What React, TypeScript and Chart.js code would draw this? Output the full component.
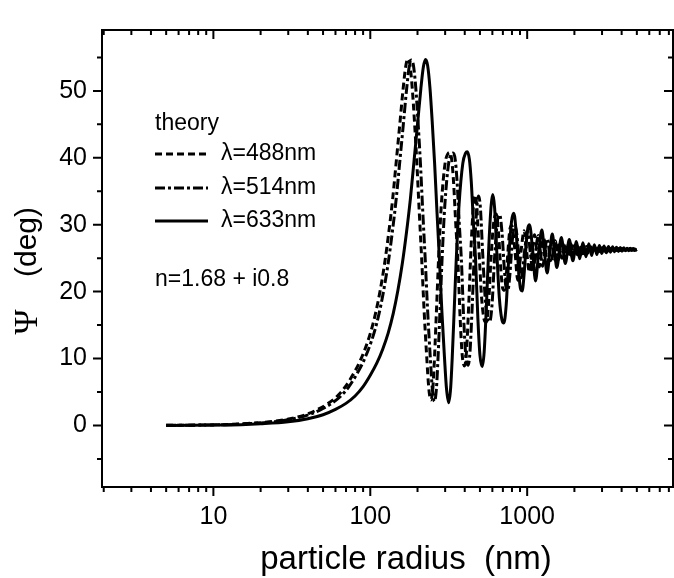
import React, { useEffect, useRef } from 'react';
import { Chart, registerables } from 'chart.js';

Chart.register(...registerables);

// ---------- data ----------
const seriesLabels = ['λ=488nm', 'λ=514nm', 'λ=633nm'];
const legendTitle = 'theory';
const annotationText = 'n=1.68 + i0.8';
const xTitle = 'particle radius  (nm)';
const yTitleSymbol = 'Ψ';
const yTitleUnit = '(deg)';
const xTickValues = [10, 100, 1000];
const yTickValues = [0, 10, 20, 30, 40, 50];

const r633 = [5, 7, 10, 15, 20, 30, 40, 50, 60, 70, 80, 90, 100, 110, 120, 130, 140, 150, 160, 170, 180, 190, 200, 210, 218, 225, 232, 240, 248, 257, 266, 276, 286, 297, 306, 316, 325, 333, 343, 353, 368, 389, 405, 415, 428, 440, 455, 469, 485, 500, 517, 532, 550, 570, 590, 604, 620, 640, 665, 690, 710, 735, 765, 795, 822, 850, 880, 905, 929, 955, 985, 1010, 1035, 1085, 1130, 1185, 1240, 1290, 1340, 1395, 1445, 1495, 1545, 1650, 1750, 1855, 1955, 2060, 2160, 2265, 2370, 2470, 2575, 2680, 2780, 2885, 2990, 3090, 3195, 3300, 3400, 3505, 3610, 3710, 3815, 3920, 4020, 4125, 4225, 4330, 4435, 4535, 4640, 4740, 4845, 5000];
const psi633 = [0, 0.02, 0.05, 0.12, 0.25, 0.55, 1.0, 1.6, 2.4, 3.3, 4.4, 5.8, 7.5, 9.3, 11.4, 13.8, 16.7, 20.2, 24.2, 28.8, 33.8, 39.5, 45.0, 50.3, 53.6, 54.7, 53.8, 50.5, 45.5, 39.2, 32, 24.7, 17, 10.2, 5.5, 3.4, 5.5, 10.2, 17.5, 24.7, 33, 39.2, 40.7, 40.9, 39.8, 36.5, 30, 24.7, 16, 10.5, 8.8, 11, 18, 27, 33, 34.5, 32.5, 26, 19, 15.8, 15.3, 18, 25.5, 30.5, 31.7, 29, 23.5, 20.5, 20.1, 22.5, 27, 29.5, 30.0, 26, 21.6, 26, 29.2, 25.8, 22.8, 26, 28.6, 26, 23.6, 28.1, 24.2, 27.8, 24.6, 27.5, 24.9, 27.3, 25.2, 27.15, 25.4, 27.0, 25.55, 26.9, 25.7, 26.8, 25.8, 26.75, 25.9, 26.7, 25.95, 26.65, 26.0, 26.6, 26.05, 26.55, 26.1, 26.5, 26.1, 26.5, 26.15, 26.45, 26.15, 26.3];

const r488 = [5, 7.7, 11.6, 15.4, 23.1, 30.8, 38.6, 46.3, 54, 61.7, 69.4, 77.1, 84.8, 92.5, 100.2, 107.9, 115.7, 123.4, 131.1, 138.8, 146.5, 154.2, 161.9, 168.1, 173.5, 178.9, 185, 191.2, 198.1, 205.1, 212.8, 220.5, 229, 235.9, 243.6, 250.6, 256.7, 264.5, 272.2, 283.7, 299.9, 312.3, 320, 330, 339.2, 350.8, 361.6, 373.9, 385.5, 398.6, 410.2, 424, 439.5, 454.9, 465.7, 478, 493.4, 512.7, 532, 547.4, 566.7, 589.8, 613, 633.8, 655.4, 678.5, 697.8, 716.3, 736.3, 759.4, 778.7, 798, 836.5, 871.2, 913.6, 956, 994.6, 1033, 1075.5, 1114, 1152.6, 1191.2, 1272, 1349, 1430, 1507, 1588, 1665, 1746, 1827, 1904, 1985, 2066, 2143, 2224, 2305, 2382, 2463, 2544, 2621, 2702, 2783, 2860, 2941, 3022, 3099, 3180, 3257, 3338, 3419, 3496, 3577, 3655, 3735, 3815, 3895, 3975, 4055, 4135, 4215, 4295, 4375, 4455, 4535, 4615, 4695, 4775, 4855, 4935, 5000];
const psi488 = [0.02, 0.05, 0.12, 0.25, 0.55, 1.0, 1.6, 2.4, 3.3, 4.4, 5.8, 7.5, 9.3, 11.4, 13.8, 16.7, 20.2, 24.2, 28.8, 33.8, 39.5, 45.0, 50.3, 53.6, 54.8, 53.9, 50.5, 45.5, 39.2, 32, 24.7, 17, 10.2, 5.6, 3.8, 5.6, 10.2, 17.5, 24.7, 33, 39.2, 40.6, 40.8, 39.8, 36.5, 30, 24.7, 16, 10.5, 8.9, 11, 18, 27, 33, 34.4, 32.5, 26, 19, 15.8, 15.4, 18, 25.5, 30.5, 31.6, 29, 23.5, 20.5, 20.2, 22.5, 27, 29.5, 29.9, 26, 21.7, 26, 29.1, 25.8, 22.9, 26, 28.5, 26, 23.7, 28.0, 24.3, 27.7, 24.7, 27.4, 25.0, 27.2, 25.3, 27.1, 25.45, 26.95, 25.6, 26.85, 25.75, 26.75, 25.85, 26.7, 25.9, 26.65, 25.95, 26.6, 26.0, 26.55, 26.05, 26.5, 26.1, 26.5, 26.1, 26.45, 26.15, 26.45, 26.15, 26.45, 26.18, 26.42, 26.2, 26.4, 26.2, 26.4, 26.22, 26.38, 26.22, 26.38, 26.24, 26.36, 26.24, 26.35, 26.3];

const r514 = [5, 8.1, 12.2, 16.2, 24.4, 32.5, 40.6, 48.7, 56.8, 65, 73.1, 81.2, 89.3, 97.4, 105.6, 113.7, 121.8, 129.9, 138, 146.2, 154.3, 162.4, 170.5, 177, 182.7, 188.4, 194.9, 201.4, 208.7, 216, 224.1, 232.2, 241.2, 248.5, 256.6, 263.9, 270.4, 278.5, 286.6, 298.8, 315.9, 328.9, 337, 347.5, 357.3, 369.5, 380.8, 393.8, 406, 419.8, 432, 446.6, 462.8, 479.1, 490.4, 503.4, 519.7, 540, 560.3, 576.5, 596.8, 621.2, 645.5, 667.5, 690.2, 714.6, 734.9, 754.3, 775.5, 799.8, 820.1, 840.4, 881, 917.6, 962.2, 1006.9, 1047.5, 1088, 1132.7, 1173.3, 1213.9, 1254.5, 1339.8, 1421, 1506.3, 1587.5, 1672.7, 1753.9, 1839.2, 1924.4, 2005.6, 2090.9, 2176.2, 2257.4, 2342.6, 2427.9, 2509.1, 2594.3, 2679.6, 2760.8, 2846.1, 2931.3, 3012.5, 3097.8, 3183, 3264.2, 3349.5, 3430.7, 3516, 3601.2, 3682.4, 3767.7, 3848.9, 3934.1, 4018, 4102, 4186, 4270, 4354, 4438, 4522, 4606, 4690, 4774, 4858, 4942, 5000];
const psi514 = [0.02, 0.05, 0.12, 0.25, 0.55, 1.0, 1.6, 2.4, 3.3, 4.4, 5.8, 7.5, 9.3, 11.4, 13.8, 16.7, 20.2, 24.2, 28.8, 33.8, 39.5, 45.0, 50.3, 53.6, 54.6, 53.8, 50.5, 45.5, 39.2, 32, 24.7, 17, 10.2, 5.5, 3.6, 5.5, 10.2, 17.5, 24.7, 33, 39.2, 40.5, 40.7, 39.8, 36.5, 30, 24.7, 16, 10.5, 9.0, 11, 18, 27, 33, 34.3, 32.5, 26, 19, 15.8, 15.5, 18, 25.5, 30.5, 31.5, 29, 23.5, 20.5, 20.3, 22.5, 27, 29.5, 29.8, 26, 21.8, 26, 29.0, 25.8, 23.0, 26, 28.4, 26, 23.8, 27.9, 24.4, 27.6, 24.8, 27.35, 25.1, 27.2, 25.3, 27.05, 25.5, 26.9, 25.65, 26.8, 25.75, 26.75, 25.85, 26.7, 25.9, 26.65, 25.95, 26.6, 26.0, 26.55, 26.05, 26.5, 26.1, 26.5, 26.12, 26.45, 26.15, 26.45, 26.15, 26.45, 26.17, 26.43, 26.19, 26.41, 26.2, 26.4, 26.21, 26.38, 26.23, 26.36, 26.25, 26.3];

// ---------- styles ----------
const SANS = '"Liberation Sans", Arial, Helvetica, sans-serif';
const SERIF = '"Liberation Serif", "DejaVu Serif", serif';
const dash488 = [7, 4];
const dash514 = [10, 3, 3, 3];
const dash633: number[] = [];
const LINE_W = 3;
const X_MIN = 1.95;
const X_MAX = 8500;
const Y_MIN = -9.2;
const Y_MAX = 59.1;

const toPoints = (r: number[], p: number[]) => r.map((x, i) => ({ x, y: p[i] }));

const decorPlugin = {
  id: 'decor',
  afterDatasetsDraw(chart: any) {
    const { ctx, chartArea } = chart;
    const { left, right, top, bottom } = chartArea;
    const xs = chart.scales.x;
    const ys = chart.scales.y;
    ctx.save();
    ctx.strokeStyle = '#000';
    ctx.fillStyle = '#000';
    ctx.lineWidth = 2;
    ctx.lineCap = 'butt';
    ctx.setLineDash([]);
    // frame
    ctx.strokeRect(left, top, right - left, bottom - top);

    // x ticks (bottom outward, top inward)
    const majorX = [10, 100, 1000];
    for (const dec of [1, 10, 100, 1000]) {
      for (let m = 1; m <= 9; m++) {
        const v = m * dec;
        if (v < X_MIN || v > X_MAX) continue;
        const px = xs.getPixelForValue(v);
        const isMajor = majorX.includes(v);
        const len = isMajor ? 9 : 5;
        ctx.beginPath();
        ctx.moveTo(px, bottom);
        ctx.lineTo(px, bottom + len);
        ctx.moveTo(px, top);
        ctx.lineTo(px, top + len);
        ctx.stroke();
      }
    }
    // y ticks (left outward, right inward)
    for (let v = -5; v <= 55; v += 5) {
      const py = ys.getPixelForValue(v);
      const isMajor = v % 10 === 0;
      const len = isMajor ? 9 : 5;
      ctx.beginPath();
      ctx.moveTo(left, py);
      ctx.lineTo(left - len, py);
      ctx.moveTo(right, py);
      ctx.lineTo(right - len, py);
      ctx.stroke();
    }

    // legend inside plot
    ctx.font = `23px ${SANS}`;
    ctx.textAlign = 'left';
    ctx.textBaseline = 'middle';
    ctx.fillText(legendTitle, 155, 124);
    const rows = [
      { y: 154, dash: dash488, label: seriesLabels[0] },
      { y: 188, dash: dash514, label: seriesLabels[1] },
      { y: 221, dash: dash633, label: seriesLabels[2] },
    ];
    for (const row of rows) {
      ctx.save();
      ctx.lineWidth = LINE_W;
      ctx.setLineDash(row.dash);
      ctx.beginPath();
      ctx.moveTo(155, row.y);
      ctx.lineTo(208, row.y);
      ctx.stroke();
      ctx.restore();
      ctx.fillText(row.label, 221, row.y);
    }
    ctx.fillText(annotationText, 155, 280);

    // x title
    ctx.font = `33px ${SANS}`;
    ctx.textAlign = 'center';
    ctx.textBaseline = 'alphabetic';
    ctx.fillText(xTitle, 406, 569);

    // y title (rotated)
    ctx.translate(28, 0);
    ctx.rotate(-Math.PI / 2);
    ctx.textBaseline = 'middle';
    ctx.textAlign = 'center';
    ctx.font = `30px ${SANS}`;
    ctx.fillText(yTitleUnit, -242, 0);
    ctx.font = `34px ${SERIF}`;
    ctx.fillText(yTitleSymbol, -322, 0);
    ctx.restore();
  },
};

export default function App() {
  const ref = useRef<HTMLCanvasElement | null>(null);
  useEffect(() => {
    document.body.style.margin = '0';
    const canvas = ref.current;
    if (!canvas) return;
    const chart = new Chart(canvas, {
      type: 'line',
      data: {
        datasets: [
          { label: seriesLabels[0], data: toPoints(r488, psi488), borderDash: dash488 },
          { label: seriesLabels[1], data: toPoints(r514, psi514), borderDash: dash514 },
          { label: seriesLabels[2], data: toPoints(r633, psi633), borderDash: dash633 },
        ].map((d) => ({
          ...d,
          borderColor: '#000',
          backgroundColor: '#000',
          borderWidth: LINE_W,
          pointRadius: 0,
          fill: false,
          cubicInterpolationMode: 'monotone' as const,
        })),
      },
      options: {
        responsive: false,
        animation: false,
        devicePixelRatio: 1,
        layout: { padding: { top: 17, right: 1, left: 0, bottom: 0 } },
        plugins: { legend: { display: false }, tooltip: { enabled: false } },
        scales: {
          x: {
            type: 'logarithmic',
            min: X_MIN,
            max: X_MAX,
            grid: { display: false, drawTicks: false },
            border: { display: false },
            afterBuildTicks: (s: any) => {
              s.ticks = xTickValues.map((v) => ({ value: v, major: true }));
            },
            afterFit: (s: any) => {
              s.height = 91;
            },
            ticks: {
              callback: (v: any) => String(v),
              font: { family: SANS, size: 25 },
              color: '#000',
              padding: 15,
              maxRotation: 0,
              autoSkip: false,
            },
          },
          y: {
            type: 'linear',
            min: Y_MIN,
            max: Y_MAX,
            grid: { display: false, drawTicks: false },
            border: { display: false },
            afterBuildTicks: (s: any) => {
              s.ticks = yTickValues.map((v) => ({ value: v }));
            },
            afterFit: (s: any) => {
              s.width = 102;
            },
            ticks: {
              callback: (v: any) => String(v),
              font: { family: SANS, size: 25 },
              color: '#000',
              padding: 15,
            },
          },
        },
      },
      plugins: [decorPlugin],
    } as any);
    return () => chart.destroy();
  }, []);
  return (
    <div style={{ width: 674, height: 578 }}>
      <canvas ref={ref} width={674} height={578} style={{ display: 'block' }} />
    </div>
  );
}
